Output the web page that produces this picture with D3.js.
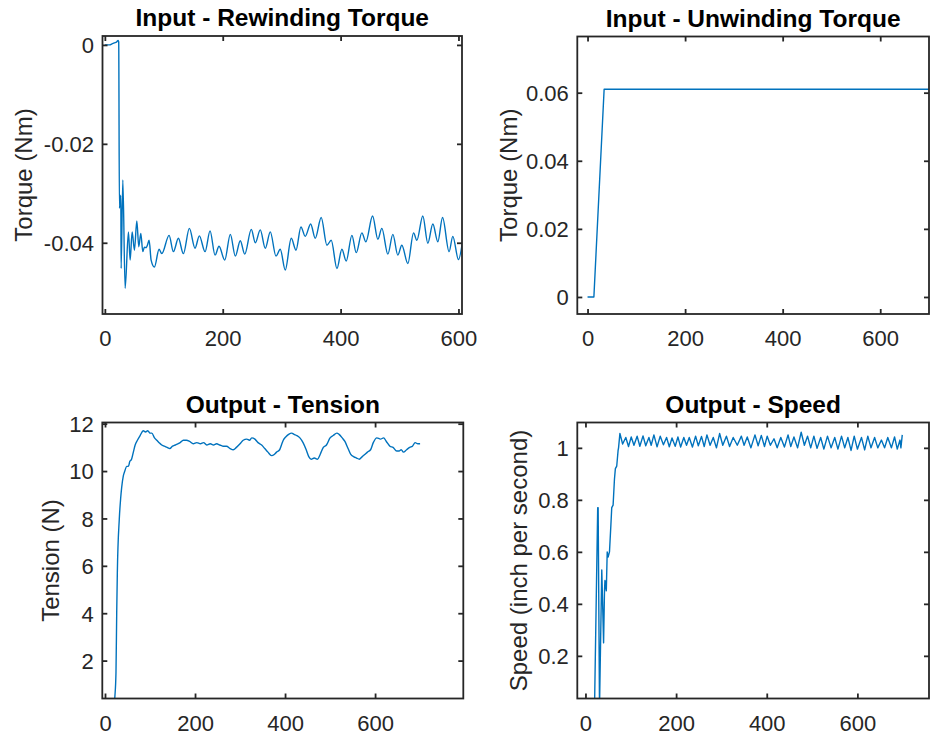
<!DOCTYPE html>
<html>
<head>
<meta charset="utf-8">
<script src="https://cdn.jsdelivr.net/npm/d3@7"></script>
<style>
  body { margin: 0; background: #fff; }
  svg { display: block; font-family: Arial, "Liberation Sans", sans-serif; }
  .tick text { font-size: 22px; fill: #262626; }
  .title { font-size: 24.5px; font-weight: bold; fill: #000; text-anchor: middle; }
  .ylabel { font-size: 24px; fill: #262626; text-anchor: middle; }
</style>
</head>
<body>
<div id="chart"></div>
<script>
// svg params
var svgWidth = 931;
var svgHeight = 736;

// ---- data ----
// Input - Rewinding Torque (Nm)
var rewindX = [0, 8, 12, 16, 20, 22.5, 23.5, 24.7, 27.1, 27.6, 30.5, 34.4, 40, 42.9, 46.3, 50.2, 54.2, 57.6, 61, 64.4,
  67.1, 70, 72.2, 75.1, 78.5, 84.1, 92, 96.6, 109, 116.3, 124.8, 133.2, 143.4, 153, 160.3, 170, 178.5, 187, 193.7,
  203.4, 212.9, 221.4, 229.8, 237.3, 248.5, 255.3, 263.7, 272.2, 280.7, 290.4, 297.6, 306.1, 316.3, 324.3, 332.7,
  340, 349.2, 357, 367.1, 376.8, 384.1, 393.8, 402.2, 409.5, 419.2, 426.5, 436.1, 442.9, 454.3, 463.2, 470, 480.2,
  488.7, 497.1, 503.9, 514.1, 523.8, 529.4, 539.5, 548, 556.5, 565, 573, 584.1, 590.4, 600, 606.8];
var rewindY = [0, 0, 0.0002, 0.0004, 0.0006, 0.0009, 0.0006, -0.033, -0.0304, -0.0452, -0.0273, -0.0492, -0.0378,
  -0.0435, -0.0378, -0.0415, -0.0356, -0.0408, -0.0381, -0.0418, -0.0409, -0.041, -0.0405, -0.0395, -0.0435, -0.0449,
  -0.0413, -0.0422, -0.0385, -0.0418, -0.0391, -0.0422, -0.0371, -0.0411, -0.0386, -0.0418, -0.0376, -0.0425,
  -0.0407, -0.0435, -0.0383, -0.0427, -0.0396, -0.0423, -0.0373, -0.04, -0.0374, -0.0411, -0.0378, -0.0427, -0.0413,
  -0.0455, -0.0391, -0.0415, -0.0368, -0.0387, -0.0362, -0.0391, -0.0349, -0.0405, -0.0395, -0.0452, -0.0413,
  -0.0437, -0.0385, -0.042, -0.038, -0.0398, -0.0346, -0.0393, -0.0371, -0.0423, -0.0383, -0.0425, -0.0405, -0.0442,
  -0.038, -0.0395, -0.0346, -0.0401, -0.0362, -0.0398, -0.0349, -0.0418, -0.0387, -0.0434, -0.0398];

// Input - Unwinding Torque (Nm)
var unwindX = [0, 13, 34, 700];
var unwindY = [0, 0, 0.061, 0.061];

// Output - Tension (N)
var tensionX = [0, 19, 22, 24.4, 26, 27.4, 31.8, 34.8, 37, 40.7, 44, 48, 52, 55, 59, 63, 67, 72, 78, 85, 90, 95, 100,
  104, 110, 115, 120, 126, 132, 138, 144, 150, 156, 162, 167, 174, 181, 188, 196, 204, 212, 219, 226, 234, 241, 248,
  255, 262, 270, 278, 285, 292, 300, 307, 315, 321, 326, 333, 340, 348, 355, 362, 370, 376, 381, 388, 392, 396, 402,
  408, 415, 420, 426, 433, 440, 447, 453, 458, 465, 472, 478, 485, 492, 500, 507, 515, 520, 527, 533, 540, 546, 553,
  559, 565, 571, 577, 583, 590, 596, 604, 612, 619, 625, 633, 640, 648, 654, 658, 663, 670, 677, 683, 689, 695, 700];
var tensionY = [0, 0, 0.5, 1.5, 4.0, 5.7, 8.0, 8.85, 9.3, 9.8, 10.0, 10.2, 10.2, 10.4, 10.5, 10.8, 11.1, 11.3, 11.5,
  11.7, 11.65, 11.7, 11.6, 11.6, 11.4, 11.3, 11.2, 11.1, 11.05, 11.0, 10.95, 11.05, 11.1, 11.15, 11.2, 11.3, 11.3,
  11.25, 11.15, 11.2, 11.15, 11.2, 11.1, 11.15, 11.1, 11.15, 11.1, 11.05, 11.05, 10.95, 10.9, 11.0, 11.15, 11.3,
  11.35, 11.3, 11.4, 11.35, 11.2, 11.1, 10.95, 10.8, 10.65, 10.7, 10.8, 10.9, 11.1, 11.3, 11.45, 11.55, 11.6, 11.55,
  11.5, 11.4, 11.2, 10.9, 10.6, 10.5, 10.55, 10.5, 10.7, 11.0, 11.1, 11.4, 11.5, 11.6, 11.55, 11.4, 11.25, 10.95,
  10.7, 10.6, 10.55, 10.5, 10.6, 10.7, 10.8, 10.9, 11.2, 11.4, 11.35, 11.4, 11.25, 11.05, 11.0, 10.85, 10.85, 10.9,
  10.8, 10.9, 11.0, 11.05, 11.2, 11.15, 11.15];

// Output - Speed (inch per second)
var speedX = [0, 20, 27, 28, 31, 36, 40, 42, 43, 46, 48, 50, 53, 56, 58, 61, 64, 66, 69, 72, 73, 76, 82, 89, 95, 101,
  107, 114, 120, 127, 133, 140, 145, 151, 158, 165, 172, 179, 185, 191, 198, 204, 210, 217, 223, 229, 236, 243, 249,
  256, 262, 268, 275, 282, 289, 296, 303, 311, 318, 326, 335, 344, 350, 357, 365, 374, 381, 388, 395, 401, 408, 416,
  423, 431, 439, 447, 453, 460, 468, 476, 483, 490, 497, 504, 511, 519, 526, 534, 542, 550, 557, 565, 572, 579, 586,
  593, 600, 609, 616, 623, 630, 638, 645, 653, 660, 667, 675, 682, 688, 694, 696, 699];
var speedY = [0, 0, 0.77, 0.77, 0, 0.53, 0.25, 0.45, 0.49, 0.45, 0.6, 0.58, 0.6, 0.7, 0.77, 0.78, 0.88, 0.92, 0.93,
  0.99, 1.0, 1.055, 1.015, 1.04, 1.005, 1.042, 1.01, 1.045, 1.006, 1.046, 1.008, 1.04, 1.01, 1.05, 1.004, 1.045,
  1.012, 1.04, 1.004, 1.038, 1.006, 1.042, 1.003, 1.04, 1.01, 1.04, 1.003, 1.045, 1.008, 1.044, 1.005, 1.05, 1.01,
  1.04, 1.0, 1.055, 1.01, 1.045, 1.005, 1.04, 1.01, 1.045, 1.01, 1.042, 1.0, 1.05, 1.008, 1.048, 1.005, 1.045, 1.01,
  1.035, 1.0, 1.04, 1.003, 1.05, 1.005, 1.042, 1.0, 1.06, 1.01, 1.045, 1.0, 1.045, 0.998, 1.04, 0.995, 1.045, 1.0,
  1.04, 0.995, 1.045, 1.0, 1.04, 0.99, 1.045, 0.995, 1.04, 0.992, 1.045, 1.0, 1.04, 1.0, 1.03, 1.0, 1.04, 1.0, 1.042,
  0.995, 1.03, 1.0, 1.05];

// tick values
var xTicks = [0, 200, 400, 600];
var rewindTicks = [-0.04, -0.02, 0];
var unwindTicks = [0, 0.02, 0.04, 0.06];
var tensionTicks = [2, 4, 6, 8, 10, 12];
var speedTicks = [0.2, 0.4, 0.6, 0.8, 1];

function zip(xs, ys) {
  return xs.map((x, i) => ({x: x, y: ys[i]}));
}

// panel layout (pixel boxes)
var panels = [
  {title: "Input - Rewinding Torque", ylabel: "Torque (Nm)", data: zip(rewindX, rewindY), curve: d3.curveMonotoneX,
   left: 102.5, top: 36, right: 462, bottom: 314, xDomain: [-4, 606], yDomain: [-0.0544, 0.0018],
   yTicks: rewindTicks, labelOff: 71},
  {title: "Input - Unwinding Torque", ylabel: "Torque (Nm)", data: zip(unwindX, unwindY), curve: d3.curveLinear,
   left: 577.3, top: 36.5, right: 929, bottom: 314, xDomain: [-21, 700], yDomain: [-0.005, 0.0765],
   yTicks: unwindTicks, labelOff: 60},
  {title: "Output - Tension", ylabel: "Tension (N)", data: zip(tensionX, tensionY), curve: d3.curveMonotoneX,
   left: 102.3, top: 422.5, right: 463.3, bottom: 698.5, xDomain: [-6, 796], yDomain: [0.4, 12.05],
   yTicks: tensionTicks, labelOff: 43},
  {title: "Output - Speed", ylabel: "Speed (inch per second)", data: zip(speedX, speedY), curve: d3.curveLinear,
   left: 577.3, top: 422.5, right: 929, bottom: 698.5, xDomain: [-18, 758], yDomain: [0.036, 1.0975],
   yTicks: speedTicks, labelOff: 50}
];

var svg = d3.select("#chart")
  .append("svg")
  .attr("width", svgWidth)
  .attr("height", svgHeight);

var axisColor = "#262626";
// plain hyphen for negatives, like the original
var fmt = d => String(d);

panels.forEach(function(p, i) {
  var w = p.right - p.left;
  var h = p.bottom - p.top;
  var g = svg.append("g").attr("transform", `translate(${p.left}, ${p.top})`);

  var x = d3.scaleLinear().domain(p.xDomain).range([0, w]);
  var y = d3.scaleLinear().domain(p.yDomain).range([h, 0]);

  // clip
  g.append("clipPath").attr("id", "clip" + i)
    .append("rect").attr("width", w).attr("height", h);

  // line
  var line = d3.line().curve(p.curve).x(d => x(d.x)).y(d => y(d.y));
  g.append("path")
    .datum(p.data)
    .attr("clip-path", `url(#clip${i})`)
    .attr("fill", "none")
    .attr("stroke", "#0072BD")
    .attr("stroke-width", 1.4)
    .attr("stroke-linejoin", "round")
    .attr("d", line);

  // axes (ticks pointing inward, mirrored on top/right)
  var bottom = g.append("g").attr("transform", `translate(0, ${h})`)
    .call(d3.axisBottom(x).tickValues(xTicks).tickSizeInner(-5).tickSizeOuter(0).tickPadding(16.5).tickFormat(fmt));
  var left = g.append("g")
    .call(d3.axisLeft(y).tickValues(p.yTicks).tickSizeInner(-5).tickSizeOuter(0).tickPadding(8.5).tickFormat(fmt));
  var top = g.append("g")
    .call(d3.axisTop(x).tickValues(xTicks).tickSizeInner(-5).tickSizeOuter(0).tickFormat(""));
  var right = g.append("g").attr("transform", `translate(${w}, 0)`)
    .call(d3.axisRight(y).tickValues(p.yTicks).tickSizeInner(-5).tickSizeOuter(0).tickFormat(""));

  [bottom, left, top, right].forEach(function(a) {
    a.select(".domain").remove();
    a.selectAll("line").attr("stroke", axisColor).attr("stroke-width", 1.8);
    a.attr("font-family", null).attr("font-size", null);
  });
  left.selectAll("text").attr("dy", "0.36em");

  // box
  g.append("rect")
    .attr("width", w).attr("height", h)
    .attr("fill", "none")
    .attr("stroke", axisColor)
    .attr("stroke-width", 1.8);

  // title
  g.append("text")
    .attr("class", "title")
    .attr("x", w / 2)
    .attr("y", -10)
    .text(p.title);

  // y label
  g.append("text")
    .attr("class", "ylabel")
    .attr("transform", `translate(${-p.labelOff}, ${h / 2}) rotate(-90)`)
    .text(p.ylabel);
});
</script>
</body>
</html>
